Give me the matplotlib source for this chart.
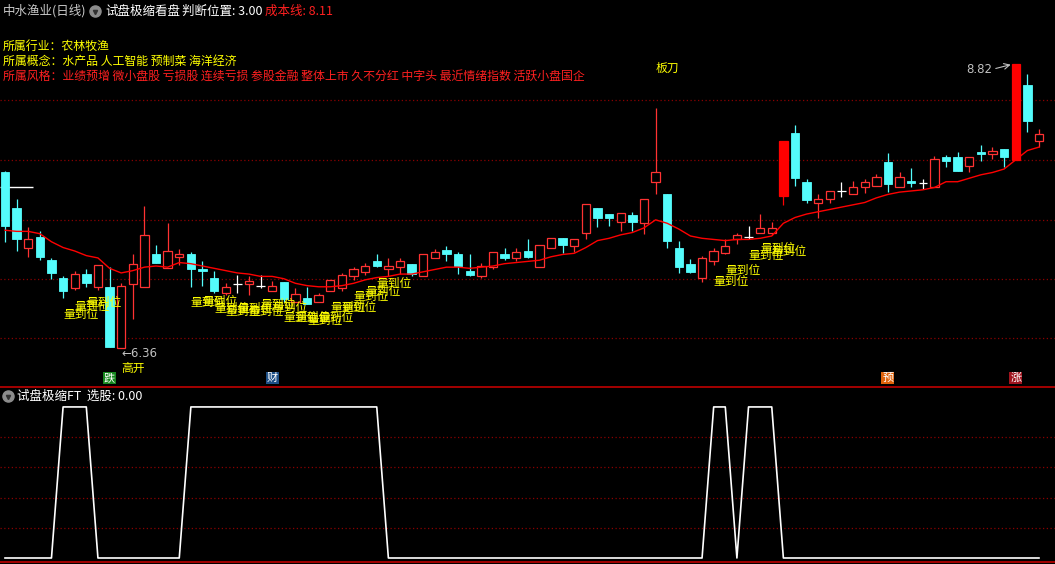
import matplotlib
matplotlib.use("Agg")
import matplotlib.pyplot as plt
import matplotlib.transforms as mtransforms
from matplotlib.patches import Rectangle
import numpy as np

plt.rcParams["font.family"] = ["Noto Sans CJK SC", "DejaVu Sans"]

# daily bars
opens = [7.88, 7.57, 7.23, 7.32, 7.12, 6.97, 6.88, 7.00, 6.89, 6.89,
         6.36, 6.91, 6.89, 7.17, 7.05, 7.15, 7.17, 7.04, 6.97, 6.84,
         6.91, 6.91, 6.90, 6.85, 6.93, 6.76, 6.79, 6.76, 6.85, 6.88,
         6.98, 7.02, 7.11, 7.04, 7.06, 7.09, 6.98, 7.14, 7.21, 7.17,
         7.03, 6.98, 7.06, 7.17, 7.14, 7.20, 7.06, 7.23, 7.31, 7.24,
         7.36, 7.57, 7.52, 7.45, 7.51, 7.44, 7.80, 7.69, 7.23, 7.09,
         6.97, 7.11, 7.18, 7.30, 7.32, 7.36, 7.36, 7.68, 8.22, 7.80,
         7.62, 7.65, 7.72, 7.69, 7.75, 7.76, 7.97, 7.75, 7.81, 7.79,
         7.75, 8.01, 8.01, 7.94, 8.06, 8.04, 8.08, 7.99, 8.64, 8.15]
closes = [7.42, 7.30, 7.30, 7.15, 7.01, 6.85, 7.00, 6.92, 7.08, 6.37,
          6.90, 7.09, 7.34, 7.10, 7.20, 7.17, 7.04, 7.03, 6.85, 6.89,
          6.91, 6.94, 6.90, 6.90, 6.78, 6.83, 6.74, 6.82, 6.95, 6.99,
          7.04, 7.07, 7.07, 7.07, 7.11, 7.00, 7.17, 7.19, 7.17, 7.07,
          6.99, 7.07, 7.19, 7.14, 7.19, 7.15, 7.25, 7.31, 7.25, 7.30,
          7.61, 7.49, 7.49, 7.53, 7.45, 7.65, 7.88, 7.29, 7.06, 7.02,
          7.14, 7.20, 7.24, 7.34, 7.32, 7.40, 7.40, 8.15, 7.83, 7.64,
          7.65, 7.72, 7.72, 7.75, 7.80, 7.84, 7.78, 7.84, 7.79, 7.79,
          8.00, 7.98, 7.89, 8.01, 8.04, 8.07, 8.01, 8.82, 8.33, 8.21]
highs = [7.89, 7.65, 7.41, 7.37, 7.14, 6.98, 7.03, 7.04, 7.08, 7.06,
         6.92, 7.17, 7.59, 7.25, 7.44, 7.22, 7.19, 7.11, 7.03, 6.92,
         6.99, 6.98, 6.99, 6.94, 6.93, 6.88, 6.89, 6.84, 6.95, 7.01,
         7.06, 7.10, 7.17, 7.14, 7.14, 7.09, 7.17, 7.22, 7.24, 7.19,
         7.17, 7.10, 7.19, 7.23, 7.23, 7.30, 7.25, 7.31, 7.31, 7.30,
         7.61, 7.57, 7.52, 7.53, 7.54, 7.65, 8.44, 7.69, 7.29, 7.13,
         7.16, 7.23, 7.30, 7.36, 7.42, 7.52, 7.45, 8.15, 8.29, 7.82,
         7.69, 7.72, 7.80, 7.81, 7.82, 7.87, 8.05, 7.88, 7.92, 7.82,
         8.02, 8.03, 8.06, 8.01, 8.12, 8.10, 8.08, 8.82, 8.73, 8.26]
lows = [7.28, 7.20, 7.15, 7.12, 6.96, 6.79, 6.86, 6.89, 6.86, 6.37,
        6.36, 6.61, 6.89, 7.10, 7.05, 7.08, 6.89, 6.90, 6.84, 6.82,
        6.84, 6.82, 6.88, 6.85, 6.76, 6.76, 6.74, 6.76, 6.85, 6.85,
        6.95, 6.99, 7.06, 6.98, 7.00, 6.98, 6.98, 7.14, 7.11, 7.00,
        6.98, 6.97, 7.04, 7.12, 7.11, 7.14, 7.06, 7.23, 7.18, 7.19,
        7.30, 7.41, 7.42, 7.37, 7.37, 7.35, 7.69, 7.23, 7.01, 7.01,
        6.93, 7.08, 7.17, 7.26, 7.30, 7.36, 7.34, 7.60, 7.76, 7.62,
        7.49, 7.62, 7.67, 7.69, 7.70, 7.76, 7.71, 7.75, 7.75, 7.74,
        7.75, 7.93, 7.89, 7.88, 7.98, 8.00, 7.93, 7.99, 8.23, 8.10]
cost_line = [7.38, 7.37, 7.37, 7.35, 7.28, 7.23, 7.20, 7.16, 7.14, 7.05,
             7.01, 7.03, 7.06, 7.07, 7.06, 7.10, 7.09, 7.07, 7.05, 7.03,
             7.01, 7.00, 6.98, 6.98, 6.96, 6.92, 6.90, 6.89, 6.89, 6.90,
             6.92, 6.95, 6.97, 6.98, 7.00, 7.00, 7.02, 7.04, 7.06, 7.06,
             7.05, 7.06, 7.07, 7.09, 7.10, 7.11, 7.12, 7.15, 7.17, 7.18,
             7.23, 7.29, 7.31, 7.34, 7.36, 7.40, 7.47, 7.44, 7.39, 7.33,
             7.31, 7.30, 7.29, 7.30, 7.30, 7.31, 7.33, 7.44, 7.49, 7.52,
             7.54, 7.56, 7.58, 7.60, 7.62, 7.66, 7.69, 7.71, 7.72, 7.73,
             7.75, 7.80, 7.80, 7.83, 7.86, 7.88, 7.91, 7.99, 8.07, 8.10]
# 试盘极缩FT signal (0/1)
signal = [0] * 5 + [1] * 3 + [0] * 8 + [1] * 17 + [0] * 28 + [1, 1, 0, 1, 1, 1] + [0] * 23

event_idx = [9, 23, 76, 87]
event_text = ["跌", "财", "预", "涨"]
event_color = ["#16861e", "#1d4f86", "#e0620a", "#a0141e"]

grid_prices = [6.45, 6.96, 7.47, 7.99, 8.51]
sub_grid = [0.2, 0.4, 0.6, 0.8]
mark_line = 7.75  # short white level line at left edge

concept_rows = [
    ("所属行业：农林牧渔", "#ffff00"),
    ("所属概念：水产品 人工智能 预制菜 海洋经济", "#ffff00"),
    ("所属风格：业绩预增 微小盘股 亏损股 连续亏损 参股金融 整体上市 久不分红 中字头 最近情绪指数 活跃小盘国企", "#ff2020"),
]

RED = "#ff3232"
CYAN = "#54fcfc"
GRID = "#8a0000"
W, H = 1055, 564

fig = plt.figure(figsize=(W / 100, H / 100), dpi=100, facecolor="black")


def fx(x):
    return x / W


def fy(y):
    return 1 - y / H


ax = fig.add_axes((0, fy(387), 1, 387 / H), facecolor="black")
sub = fig.add_axes((0, fy(562), 1, 175 / H), facecolor="black")
for a in (ax, sub):
    a.set_xticks([])
    a.set_yticks([])
    for s in a.spines.values():
        s.set_visible(False)
    a.set_xlim(-0.43, 90.38)

ax.set_ylim(6.022, 9.374)
sub.set_ylim(-0.0265, 1.132)

for g in grid_prices:
    ax.axhline(g, color=GRID, lw=0.9, ls=(0, (1, 2)))
for g in sub_grid:
    sub.axhline(g, color=GRID, lw=0.9, ls=(0, (1, 2)))

n = len(opens)
x = np.arange(n)
bw = 0.72
for i in range(n):
    o, h, l, c = opens[i], highs[i], lows[i], closes[i]
    if c > o:
        limit_up = i > 0 and c / closes[i - 1] >= 1.095
        col = "#ff0000" if limit_up else RED
        ax.vlines(i, c, h, color=col, lw=0.9)
        ax.vlines(i, l, o, color=col, lw=0.9)
        ax.add_patch(Rectangle((i - bw / 2, o), bw, c - o, facecolor=col if limit_up else "black",
                               edgecolor=col, lw=0.9, zorder=3))
    elif c < o:
        ax.vlines(i, l, h, color=CYAN, lw=0.9)
        ax.add_patch(Rectangle((i - bw / 2, c), bw, o - c, facecolor=CYAN, edgecolor=CYAN, lw=0.6, zorder=3))
    else:
        ax.vlines(i, l, h, color="white", lw=0.9)
        ax.hlines(o, i - bw / 2, i + bw / 2, color="white", lw=0.9)

ax.plot(x, cost_line, color="#ff0000", lw=1.0, zorder=4)
ax.hlines(mark_line, -0.43, 2.4, color="white", lw=1.0)

# 量到位 labels where the signal fires
for i in range(n):
    if signal[i]:
        ax.text(i, lows[i] - 0.14, "量到位", color="#ffff00", fontsize=8.5, ha="left", va="center", zorder=5)

ax.text(10, lows[10] - 0.175, "高开", color="#ffff00", fontsize=8.5, ha="left", va="center")
ax.text(57, 8.78, "板刀", color="#ffff00", fontsize=8.5, ha="center", va="center")

imin = int(np.argmin(lows))
ax.text(imin, lows[imin] - 0.045, "←6.36", color="#c0c0c0", fontsize=8.5, ha="left", va="center",
        family=["DejaVu Sans"])
imax = int(np.argmax(highs))
ax.text(imax - 2.05, highs[imax] - 0.045, f"{highs[imax]:.2f}", color="#c0c0c0", fontsize=8.5,
        ha="right", va="center", family=["DejaVu Sans"])
ax.annotate("", xy=(imax - 0.2, highs[imax]), xytext=(imax - 1.95, highs[imax] - 0.045),
            arrowprops=dict(arrowstyle="->", color="#c0c0c0", lw=0.8))

trans = mtransforms.blended_transform_factory(ax.transData, ax.transAxes)
for i, t, col in zip(event_idx, event_text, event_color):
    ax.text(i, 0.023, t, transform=trans, color="white", fontsize=8, ha="center", va="center",
            bbox=dict(boxstyle="square,pad=0.08", facecolor=col, edgecolor="none"))

sub.plot(x, signal, color="white", lw=1.2)

# panel borders
fig.add_artist(plt.Line2D([0, 1], [fy(387), fy(387)], color="#c00000", lw=1.2))
fig.add_artist(plt.Line2D([0, 1], [fy(562), fy(562)], color="#c00000", lw=1.2))

# header
fig.text(fx(3), fy(11), "中水渔业(日线)", color="#c8c8c8", fontsize=9, va="center")
fig.add_artist(plt.Line2D([fx(95)], [fy(11)], marker="o", ms=8, color="#8c8c8c", mec="#8c8c8c"))
fig.add_artist(plt.Line2D([fx(95)], [fy(12)], marker="v", ms=3, color="#303030", mec="#303030"))
fig.text(fx(105), fy(11), "试盘极缩看盘", color="white", fontsize=9, va="center")
fig.text(fx(182), fy(11), "判断位置: 3.00", color="white", fontsize=9, va="center")
fig.text(fx(265), fy(11), f"成本线: {cost_line[-1] + 0.01:.2f}", color="#ff2020", fontsize=9, va="center")

for k, (t, col) in enumerate(concept_rows):
    fig.text(fx(3), fy(46 + 15 * k), t, color=col, fontsize=8.6, va="center")

fig.add_artist(plt.Line2D([fx(8)], [fy(396)], marker="o", ms=8, color="#8c8c8c", mec="#8c8c8c"))
fig.add_artist(plt.Line2D([fx(8)], [fy(397)], marker="v", ms=3, color="#303030", mec="#303030"))
fig.text(fx(17), fy(396), "试盘极缩FT  选股: 0.00", color="white", fontsize=9, va="center")

fig.savefig("out.png", dpi=100, facecolor="black")
